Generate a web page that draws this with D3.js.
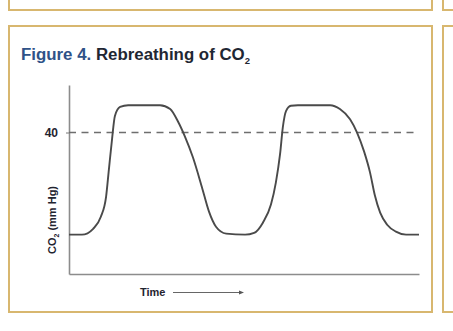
<!DOCTYPE html>
<html>
<head>
<meta charset="utf-8">
<script src="https://cdn.jsdelivr.net/npm/d3@7"></script>
<style>
  html, body { margin: 0; padding: 0; background: #fff; }
  svg { display: block; }
</style>
</head>
<body>
<svg id="chart" width="453" height="331"></svg>
<script>
// End-tidal CO2 trace during rebreathing (arbitrary time units, mm Hg)
const timePoints = [0, 3.7, 6.9, 9.1, 10.6, 11.4, 12.3, 13.1, 14.6, 16.9, 26, 28.9, 31.1, 33.1, 35.4, 38, 40, 42, 44.9, 50.3,
                    52.9, 55.4, 57.7, 59.1, 60.3, 61.1, 62, 63.4, 65.4, 74.6, 77.4, 80.3, 82.3, 84.3, 86, 87.4, 88.9, 90.9, 93.4, 96.3, 100];
const co2Values  = [0, 0, 2.3, 7.0, 14.9, 25.6, 37.4, 46.4, 50, 50.7, 50.7, 49.2, 44.4, 38.5, 30.3, 18.5, 9, 3.1, 0.4, 0,
                    0.7, 4.7, 11.8, 20.4, 31.5, 42.1, 48.4, 50.5, 50.7, 50.7, 49.2, 45.2, 40, 32.6, 24.4, 15.3, 8.6, 3.9, 1.2, 0, 0];
const referenceLevel = 40;
const yTicks = [40];
const titleLead = "Figure 4.";
const titleRest = " Rebreathing of CO";
const titleSub = "2";
const yLabelMain = "CO";
const yLabelSub = "2";
const yLabelRest = " (mm Hg)";
const xLabel = "Time";

const svg = d3.select("#chart");
const gold = "#d8b76f";

// Surrounding panel frames
svg.append("rect").attr("x", 9).attr("y", -20).attr("width", 423).attr("height", 30)
  .attr("fill", "none").attr("stroke", gold).attr("stroke-width", 2);
svg.append("rect").attr("x", 443).attr("y", -20).attr("width", 40).attr("height", 30)
  .attr("fill", "none").attr("stroke", gold).attr("stroke-width", 2);
svg.append("rect").attr("x", 9).attr("y", 26).attr("width", 423).attr("height", 286)
  .attr("fill", "none").attr("stroke", gold).attr("stroke-width", 2);
svg.append("rect").attr("x", 443).attr("y", 26).attr("width", 40).attr("height", 286)
  .attr("fill", "none").attr("stroke", gold).attr("stroke-width", 2);

// Title
const title = svg.append("text").attr("x", 21).attr("y", 60)
  .attr("font-family", "'Liberation Sans', Arial, sans-serif")
  .attr("font-weight", "bold").attr("font-size", 16);
title.append("tspan").attr("fill", "#2f5288").text(titleLead);
title.append("tspan").attr("fill", "#1f2733").text(titleRest);
title.append("tspan").attr("fill", "#1f2733").attr("font-size", 9).attr("dy", 4).text(titleSub);
// Condense to the panel's title width
title.attr("textLength", 229).attr("lengthAdjust", "spacingAndGlyphs");

// Plot area
const plotLeft = 69, plotRight = 419, plotTop = 85, plotBottom = 274;
const x = d3.scaleLinear().domain([0, 100]).range([plotLeft, plotRight]);
const y = d3.scaleLinear().domain([-15.4, 58.6]).range([plotBottom, plotTop]);

const axisColor = "#8c8c8c";

// Y axis with the single reference tick
const yAxis = svg.append("g").attr("transform", `translate(${plotLeft},0)`)
  .call(d3.axisLeft(y).tickValues(yTicks).tickSize(3).tickPadding(8).tickSizeOuter(0));
yAxis.select(".domain").attr("stroke", axisColor).attr("stroke-width", 1.6);
yAxis.selectAll(".tick line").attr("stroke", axisColor).attr("stroke-width", 1.2);
yAxis.selectAll(".tick text")
  .attr("font-family", "'Liberation Sans', Arial, sans-serif")
  .attr("font-weight", "bold").attr("font-size", 12).attr("fill", "#1f2430");

// X axis (no ticks)
const xAxis = svg.append("g").attr("transform", `translate(0,${plotBottom})`)
  .call(d3.axisBottom(x).tickValues([]).tickSizeOuter(0));
xAxis.select(".domain").attr("stroke", axisColor).attr("stroke-width", 1.6);

// Dashed 40 mm Hg reference line
svg.append("line")
  .attr("x1", x(0)).attr("x2", x(100))
  .attr("y1", y(referenceLevel)).attr("y2", y(referenceLevel))
  .attr("stroke", "#6e6e6e").attr("stroke-width", 1.6)
  .attr("stroke-dasharray", "7,5.5");

// CO2 trace
const data = timePoints.map((t, i) => ({ t, v: co2Values[i] }));
const line = d3.line().x(d => x(d.t)).y(d => y(d.v)).curve(d3.curveMonotoneX);
svg.append("path").datum(data).attr("d", line)
  .attr("fill", "none").attr("stroke", "#4a4a4a").attr("stroke-width", 1.9);

// Y axis label
const yl = svg.append("text")
  .attr("transform", "translate(56,220) rotate(-90)")
  .attr("text-anchor", "middle")
  .attr("font-family", "'Liberation Sans', Arial, sans-serif")
  .attr("font-weight", "bold").attr("font-size", 11).attr("fill", "#1f2430");
yl.append("tspan").text(yLabelMain);
yl.append("tspan").attr("font-size", 7).attr("dy", 3).text(yLabelSub);
yl.append("tspan").attr("dy", -3).text(yLabelRest);

// X axis label with arrow
svg.append("text").attr("x", 140).attr("y", 296)
  .attr("font-family", "'Liberation Sans', Arial, sans-serif")
  .attr("font-weight", "bold").attr("font-size", 11).attr("fill", "#1f2430")
  .text(xLabel);
svg.append("line").attr("x1", 173).attr("x2", 242).attr("y1", 292.5).attr("y2", 292.5)
  .attr("stroke", "#666").attr("stroke-width", 1.2);
svg.append("path").attr("d", "M239,290.5 L244,292.5 L239,294.5 Z").attr("fill", "#555");
</script>
</body>
</html>
